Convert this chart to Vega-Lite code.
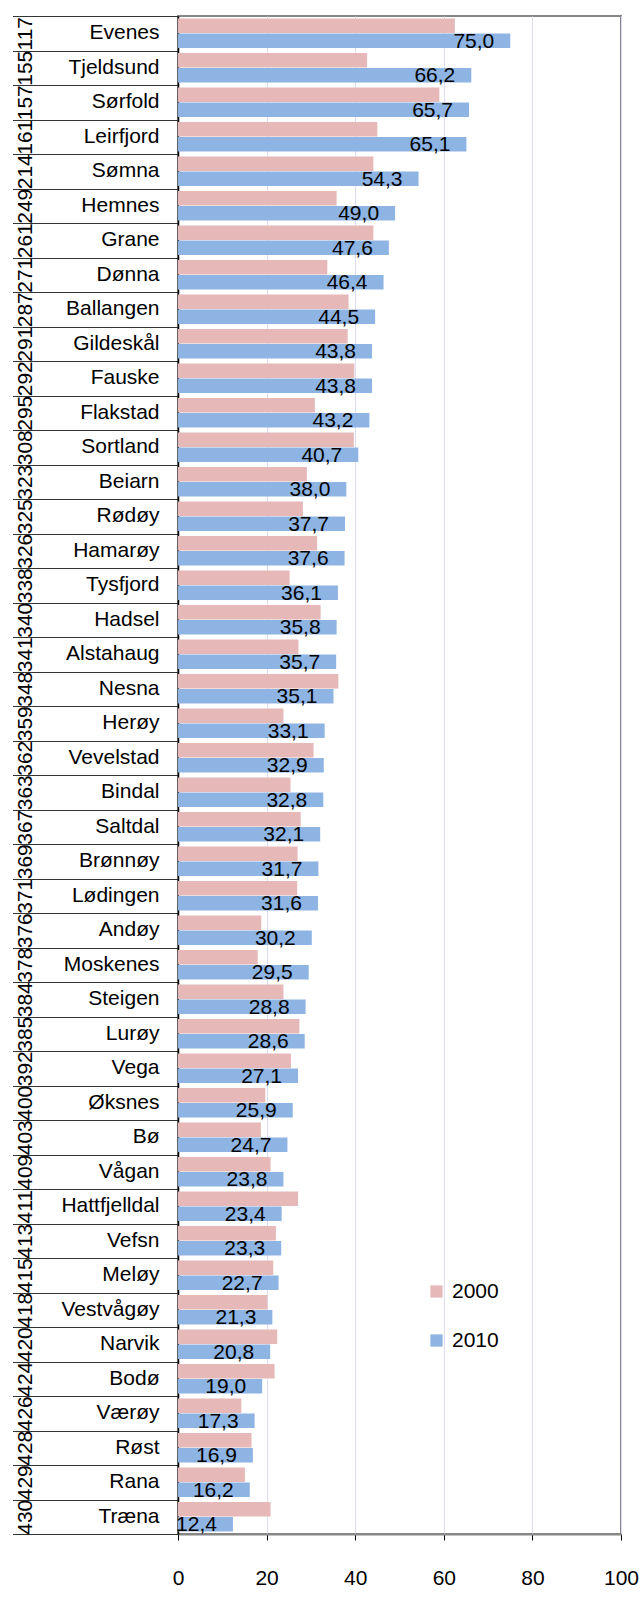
{
  "$schema": "https://vega.github.io/schema/vega-lite/v6.json",
  "padding": {"left": 12, "top": 15, "right": 5, "bottom": 5},
  "width": 443,
  "height": 1518,
  "config": {
    "font": "Liberation Sans",
    "view": {"stroke": "#868686", "strokeWidth": 2},
    "locale": {"number": {"decimal": ",", "thousands": " ", "grouping": [3], "currency": ["", ""]}}
  },
  "data": {"values": [
    {"id": "117 Evenes", "year": "2000", "value": 62.5}, {"id": "117 Evenes", "year": "2010", "value": 75.0},
    {"id": "155 Tjeldsund", "year": "2000", "value": 42.7}, {"id": "155 Tjeldsund", "year": "2010", "value": 66.2},
    {"id": "157 Sørfold", "year": "2000", "value": 59.0}, {"id": "157 Sørfold", "year": "2010", "value": 65.7},
    {"id": "161 Leirfjord", "year": "2000", "value": 45.0}, {"id": "161 Leirfjord", "year": "2010", "value": 65.1},
    {"id": "214 Sømna", "year": "2000", "value": 44.1}, {"id": "214 Sømna", "year": "2010", "value": 54.3},
    {"id": "249 Hemnes", "year": "2000", "value": 35.8}, {"id": "249 Hemnes", "year": "2010", "value": 49.0},
    {"id": "261 Grane", "year": "2000", "value": 44.1}, {"id": "261 Grane", "year": "2010", "value": 47.6},
    {"id": "271 Dønna", "year": "2000", "value": 33.7}, {"id": "271 Dønna", "year": "2010", "value": 46.4},
    {"id": "287 Ballangen", "year": "2000", "value": 38.5}, {"id": "287 Ballangen", "year": "2010", "value": 44.5},
    {"id": "291 Gildeskål", "year": "2000", "value": 38.3}, {"id": "291 Gildeskål", "year": "2010", "value": 43.8},
    {"id": "292 Fauske", "year": "2000", "value": 39.8}, {"id": "292 Fauske", "year": "2010", "value": 43.8},
    {"id": "295 Flakstad", "year": "2000", "value": 30.9}, {"id": "295 Flakstad", "year": "2010", "value": 43.2},
    {"id": "308 Sortland", "year": "2000", "value": 39.7}, {"id": "308 Sortland", "year": "2010", "value": 40.7},
    {"id": "323 Beiarn", "year": "2000", "value": 29.1}, {"id": "323 Beiarn", "year": "2010", "value": 38.0},
    {"id": "325 Rødøy", "year": "2000", "value": 28.2}, {"id": "325 Rødøy", "year": "2010", "value": 37.7},
    {"id": "326 Hamarøy", "year": "2000", "value": 31.4}, {"id": "326 Hamarøy", "year": "2010", "value": 37.6},
    {"id": "338 Tysfjord", "year": "2000", "value": 25.2}, {"id": "338 Tysfjord", "year": "2010", "value": 36.1},
    {"id": "340 Hadsel", "year": "2000", "value": 32.2}, {"id": "340 Hadsel", "year": "2010", "value": 35.8},
    {"id": "341 Alstahaug", "year": "2000", "value": 27.2}, {"id": "341 Alstahaug", "year": "2010", "value": 35.7},
    {"id": "348 Nesna", "year": "2000", "value": 36.2}, {"id": "348 Nesna", "year": "2010", "value": 35.1},
    {"id": "359 Herøy", "year": "2000", "value": 23.8}, {"id": "359 Herøy", "year": "2010", "value": 33.1},
    {"id": "362 Vevelstad", "year": "2000", "value": 30.6}, {"id": "362 Vevelstad", "year": "2010", "value": 32.9},
    {"id": "363 Bindal", "year": "2000", "value": 25.4}, {"id": "363 Bindal", "year": "2010", "value": 32.8},
    {"id": "367 Saltdal", "year": "2000", "value": 27.7}, {"id": "367 Saltdal", "year": "2010", "value": 32.1},
    {"id": "369 Brønnøy", "year": "2000", "value": 27.0}, {"id": "369 Brønnøy", "year": "2010", "value": 31.7},
    {"id": "371 Lødingen", "year": "2000", "value": 26.9}, {"id": "371 Lødingen", "year": "2010", "value": 31.6},
    {"id": "376 Andøy", "year": "2000", "value": 18.8}, {"id": "376 Andøy", "year": "2010", "value": 30.2},
    {"id": "378 Moskenes", "year": "2000", "value": 18.0}, {"id": "378 Moskenes", "year": "2010", "value": 29.5},
    {"id": "384 Steigen", "year": "2000", "value": 23.8}, {"id": "384 Steigen", "year": "2010", "value": 28.8},
    {"id": "385 Lurøy", "year": "2000", "value": 27.4}, {"id": "385 Lurøy", "year": "2010", "value": 28.6},
    {"id": "392 Vega", "year": "2000", "value": 25.5}, {"id": "392 Vega", "year": "2010", "value": 27.1},
    {"id": "400 Øksnes", "year": "2000", "value": 19.7}, {"id": "400 Øksnes", "year": "2010", "value": 25.9},
    {"id": "403 Bø", "year": "2000", "value": 18.7}, {"id": "403 Bø", "year": "2010", "value": 24.7},
    {"id": "409 Vågan", "year": "2000", "value": 20.9}, {"id": "409 Vågan", "year": "2010", "value": 23.8},
    {"id": "411 Hattfjelldal", "year": "2000", "value": 27.1}, {"id": "411 Hattfjelldal", "year": "2010", "value": 23.4},
    {"id": "413 Vefsn", "year": "2000", "value": 22.1}, {"id": "413 Vefsn", "year": "2010", "value": 23.3},
    {"id": "415 Meløy", "year": "2000", "value": 21.5}, {"id": "415 Meløy", "year": "2010", "value": 22.7},
    {"id": "418 Vestvågøy", "year": "2000", "value": 20.2}, {"id": "418 Vestvågøy", "year": "2010", "value": 21.3},
    {"id": "420 Narvik", "year": "2000", "value": 22.4}, {"id": "420 Narvik", "year": "2010", "value": 20.8},
    {"id": "424 Bodø", "year": "2000", "value": 21.8}, {"id": "424 Bodø", "year": "2010", "value": 19.0},
    {"id": "426 Værøy", "year": "2000", "value": 14.3}, {"id": "426 Værøy", "year": "2010", "value": 17.3},
    {"id": "428 Røst", "year": "2000", "value": 16.6}, {"id": "428 Røst", "year": "2010", "value": 16.9},
    {"id": "429 Rana", "year": "2000", "value": 15.1}, {"id": "429 Rana", "year": "2010", "value": 16.2},
    {"id": "430 Træna", "year": "2000", "value": 20.9}, {"id": "430 Træna", "year": "2010", "value": 12.4}
  ]},
  "layer": [
    {
      "mark": {"type": "bar"},
      "encoding": {
        "y": {
          "field": "id", "type": "nominal", "sort": "ascending",
          "scale": {"paddingInner": 0, "paddingOuter": 0},
          "axis": {
            "orient": "left", "title": null, "domain": false, "ticks": false,
            "labelExpr": "isValid(datum.value) ? split(datum.value, ' ')[1] : ''",
            "labelFontSize": 21, "labelColor": "#000000", "labelPadding": 19,
            "labelAlign": "right", "labelBaseline": "middle", "labelLimit": 200
          }
        },
        "yOffset": {"field": "year", "type": "nominal", "scale": {"paddingInner": 0.04, "paddingOuter": 0.17}},
        "x": {
          "field": "value", "type": "quantitative",
          "scale": {"domain": [0, 100], "nice": false},
          "axis": {
            "title": null, "values": [0, 20, 40, 60, 80, 100],
            "grid": true, "gridColor": "#DCDCF5", "gridWidth": 1,
            "domainColor": "#868686", "domainWidth": 2,
            "tickColor": "#000000", "tickSize": 6,
            "labelFontSize": 21, "labelColor": "#000000", "labelPadding": 27,
            "labelFlush": false
          }
        },
        "color": {
          "field": "year", "type": "nominal",
          "scale": {"domain": ["2000", "2010"], "range": ["#E6B9B8", "#8DB4E2"]},
          "legend": {
            "title": null, "orient": "none", "legendX": 248, "legendY": 1265,
            "direction": "vertical", "symbolType": "square", "symbolSize": 150,
            "symbolStrokeWidth": 0, "labelFontSize": 21, "labelColor": "#000000",
            "labelOffset": 5, "rowPadding": 27, "padding": 0
          }
        }
      }
    },
    {
      "transform": [{"filter": "datum.year == '2010'"}],
      "mark": {"type": "text", "align": "right", "baseline": "middle", "dx": -16, "dy": 1, "fontSize": 21, "color": "#000000"},
      "encoding": {
        "y": {
          "field": "id", "type": "nominal", "sort": "ascending",
          "scale": {"paddingInner": 0, "paddingOuter": 0},
          "axis": {
            "orient": "left", "title": null,
            "domain": true, "domainColor": "#000000", "domainWidth": 1.5,
            "ticks": true, "tickBand": "extent", "tickSize": 165.5, "tickColor": "#333333", "tickWidth": 1,
            "labelExpr": "isValid(datum.value) ? split(datum.value, ' ')[0] : ''",
            "labelAngle": 270, "labelAlign": "center", "labelBaseline": "middle",
            "labelFontSize": 21, "labelColor": "#000000", "labelPadding": -13
          }
        },
        "yOffset": {"field": "year", "type": "nominal"},
        "x": {"field": "value", "type": "quantitative"},
        "text": {"field": "value", "type": "quantitative", "format": ".1f"}
      }
    }
  ],
  "resolve": {"axis": {"y": "independent"}}
}
